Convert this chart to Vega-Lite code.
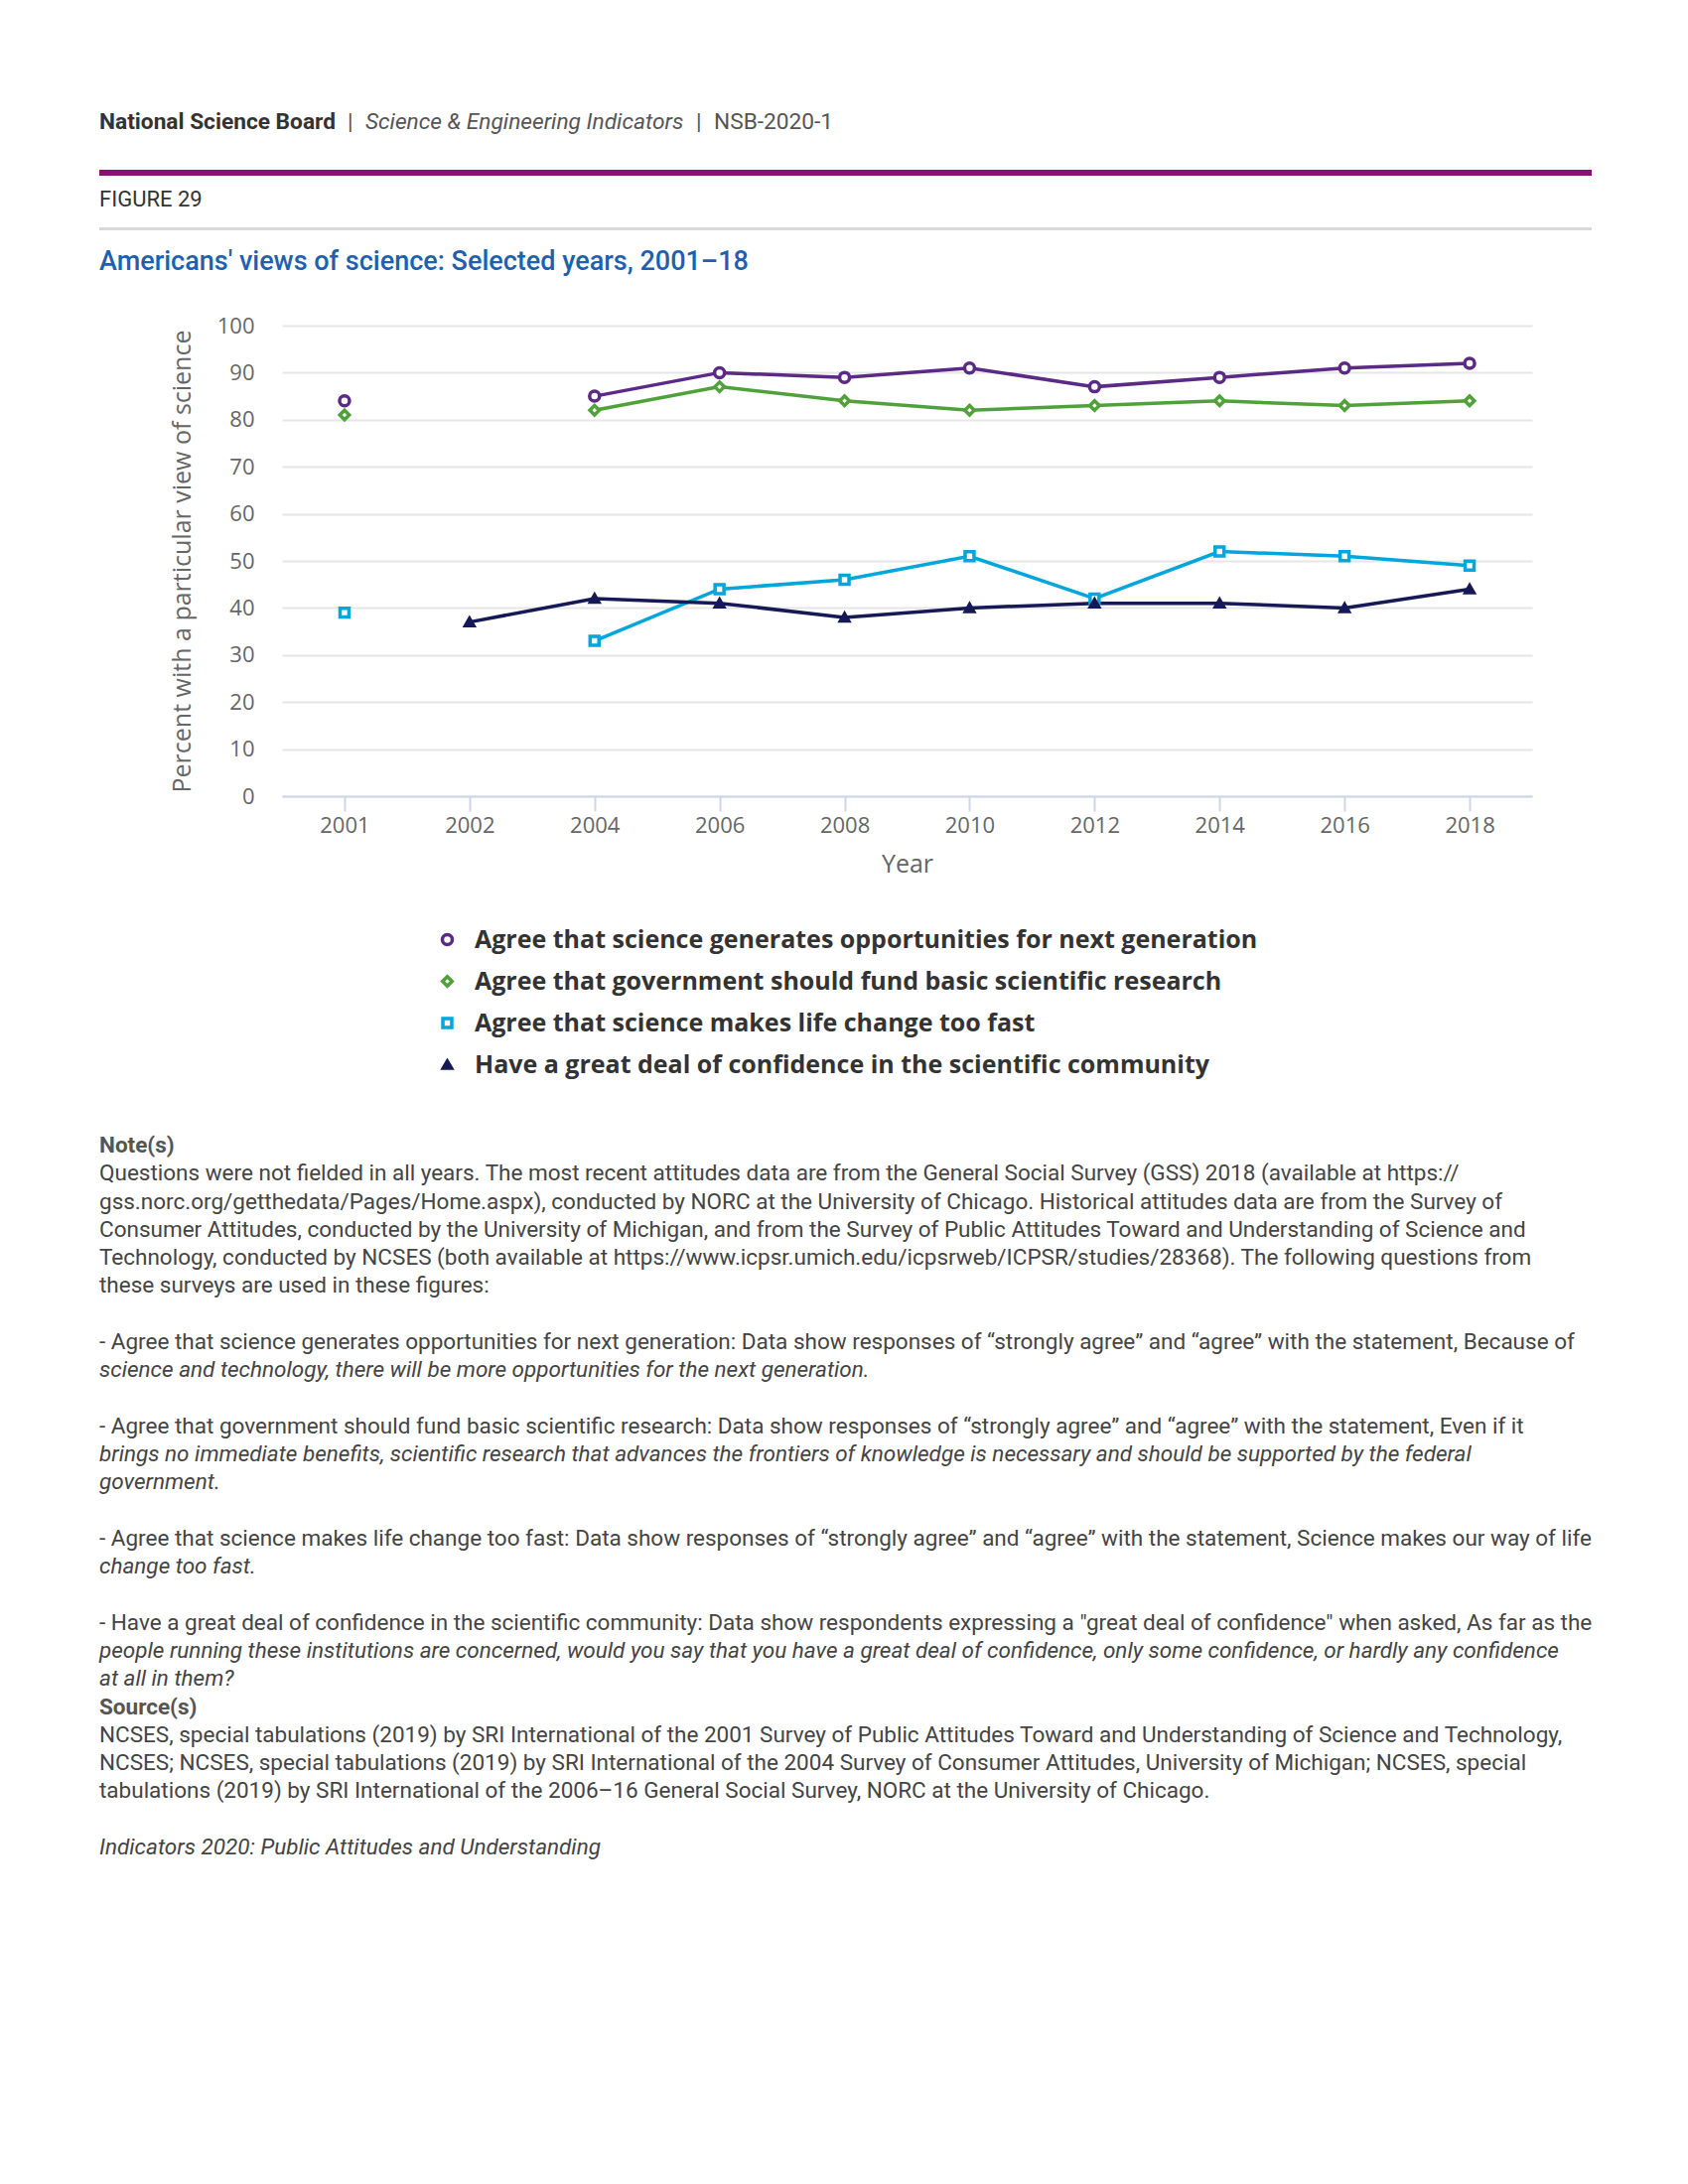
{
  "$schema": "https://vega.github.io/schema/vega-lite/v6.json",
  "background": "white",
  "padding": {"left": 100, "top": 112, "right": 20, "bottom": 20},
  "config": {
    "view": {"stroke": null},
    "font": "Roboto",
    "title": {"font": "Roboto", "anchor": "start", "frame": "bounds"},
    "axis": {
      "labelFont": "Open Sans",
      "titleFont": "Open Sans",
      "labelColor": "#666666",
      "titleColor": "#666666",
      "titleFontWeight": "normal",
      "labelFontSize": 22,
      "titleFontSize": 25
    },
    "legend": {
      "orient": "none",
      "legendX": 338,
      "legendY": 763,
      "labelFont": "Open Sans",
      "labelFontSize": 25,
      "labelFontWeight": "bold",
      "labelColor": "#333333",
      "labelLimit": 0,
      "labelOffset": 15,
      "rowPadding": 16,
      "symbolStrokeWidth": 3.5
    }
  },
  "datasets": {
    "series": [
      {"series": "Agree that science generates opportunities for next generation", "year": 2001, "value": 84},
      {"series": "Agree that science generates opportunities for next generation", "year": 2002, "value": null},
      {"series": "Agree that science generates opportunities for next generation", "year": 2004, "value": 85},
      {"series": "Agree that science generates opportunities for next generation", "year": 2006, "value": 90},
      {"series": "Agree that science generates opportunities for next generation", "year": 2008, "value": 89},
      {"series": "Agree that science generates opportunities for next generation", "year": 2010, "value": 91},
      {"series": "Agree that science generates opportunities for next generation", "year": 2012, "value": 87},
      {"series": "Agree that science generates opportunities for next generation", "year": 2014, "value": 89},
      {"series": "Agree that science generates opportunities for next generation", "year": 2016, "value": 91},
      {"series": "Agree that science generates opportunities for next generation", "year": 2018, "value": 92},
      {"series": "Agree that government should fund basic scientific research", "year": 2001, "value": 81},
      {"series": "Agree that government should fund basic scientific research", "year": 2002, "value": null},
      {"series": "Agree that government should fund basic scientific research", "year": 2004, "value": 82},
      {"series": "Agree that government should fund basic scientific research", "year": 2006, "value": 87},
      {"series": "Agree that government should fund basic scientific research", "year": 2008, "value": 84},
      {"series": "Agree that government should fund basic scientific research", "year": 2010, "value": 82},
      {"series": "Agree that government should fund basic scientific research", "year": 2012, "value": 83},
      {"series": "Agree that government should fund basic scientific research", "year": 2014, "value": 84},
      {"series": "Agree that government should fund basic scientific research", "year": 2016, "value": 83},
      {"series": "Agree that government should fund basic scientific research", "year": 2018, "value": 84},
      {"series": "Agree that science makes life change too fast", "year": 2001, "value": 39},
      {"series": "Agree that science makes life change too fast", "year": 2002, "value": null},
      {"series": "Agree that science makes life change too fast", "year": 2004, "value": 33},
      {"series": "Agree that science makes life change too fast", "year": 2006, "value": 44},
      {"series": "Agree that science makes life change too fast", "year": 2008, "value": 46},
      {"series": "Agree that science makes life change too fast", "year": 2010, "value": 51},
      {"series": "Agree that science makes life change too fast", "year": 2012, "value": 42},
      {"series": "Agree that science makes life change too fast", "year": 2014, "value": 52},
      {"series": "Agree that science makes life change too fast", "year": 2016, "value": 51},
      {"series": "Agree that science makes life change too fast", "year": 2018, "value": 49},
      {"series": "Have a great deal of confidence in the scientific community", "year": 2001, "value": null},
      {"series": "Have a great deal of confidence in the scientific community", "year": 2002, "value": 37},
      {"series": "Have a great deal of confidence in the scientific community", "year": 2004, "value": 42},
      {"series": "Have a great deal of confidence in the scientific community", "year": 2006, "value": 41},
      {"series": "Have a great deal of confidence in the scientific community", "year": 2008, "value": 38},
      {"series": "Have a great deal of confidence in the scientific community", "year": 2010, "value": 40},
      {"series": "Have a great deal of confidence in the scientific community", "year": 2012, "value": 41},
      {"series": "Have a great deal of confidence in the scientific community", "year": 2014, "value": 41},
      {"series": "Have a great deal of confidence in the scientific community", "year": 2016, "value": 40},
      {"series": "Have a great deal of confidence in the scientific community", "year": 2018, "value": 44}
    ],
    "notes": [
      {"line": 1, "role": "heading", "text": "Note(s)"},
      {"line": 2, "role": "body", "text": "Questions were not fielded in all years. The most recent attitudes data are from the General Social Survey (GSS) 2018 (available at https://"},
      {"line": 3, "role": "body", "text": "gss.norc.org/getthedata/Pages/Home.aspx), conducted by NORC at the University of Chicago. Historical attitudes data are from the Survey of"},
      {"line": 4, "role": "body", "text": "Consumer Attitudes, conducted by the University of Michigan, and from the Survey of Public Attitudes Toward and Understanding of Science and"},
      {"line": 5, "role": "body", "text": "Technology, conducted by NCSES (both available at https://www.icpsr.umich.edu/icpsrweb/ICPSR/studies/28368). The following questions from"},
      {"line": 6, "role": "body", "text": "these surveys are used in these figures:"},
      {"line": 8, "role": "body", "text": "- Agree that science generates opportunities for next generation: Data show responses of “strongly agree” and “agree” with the statement, Because of"},
      {"line": 9, "role": "statement", "text": "science and technology, there will be more opportunities for the next generation."},
      {"line": 11, "role": "body", "text": "- Agree that government should fund basic scientific research: Data show responses of “strongly agree” and “agree” with the statement, Even if it"},
      {"line": 12, "role": "statement", "text": "brings no immediate benefits, scientific research that advances the frontiers of knowledge is necessary and should be supported by the federal"},
      {"line": 13, "role": "statement", "text": "government."},
      {"line": 15, "role": "body", "text": "- Agree that science makes life change too fast: Data show responses of “strongly agree” and “agree” with the statement, Science makes our way of life"},
      {"line": 16, "role": "statement", "text": "change too fast."},
      {"line": 18, "role": "body", "text": "- Have a great deal of confidence in the scientific community: Data show respondents expressing a \"great deal of confidence\" when asked, As far as the"},
      {"line": 19, "role": "statement", "text": "people running these institutions are concerned, would you say that you have a great deal of confidence, only some confidence, or hardly any confidence"},
      {"line": 20, "role": "statement", "text": "at all in them?"},
      {"line": 21, "role": "heading", "text": "Source(s)"},
      {"line": 22, "role": "body", "text": "NCSES, special tabulations (2019) by SRI International of the 2001 Survey of Public Attitudes Toward and Understanding of Science and Technology,"},
      {"line": 23, "role": "body", "text": "NCSES; NCSES, special tabulations (2019) by SRI International of the 2004 Survey of Consumer Attitudes, University of Michigan; NCSES, special"},
      {"line": 24, "role": "body", "text": "tabulations (2019) by SRI International of the 2006–16 General Social Survey, NORC at the University of Chicago."},
      {"line": 26, "role": "statement", "text": "Indicators 2020: Public Attitudes and Understanding"}
    ]
  },
  "spacing": 260,
  "vconcat": [
    {
      "spacing": 18,
      "vconcat": [
        {
          "spacing": 13,
          "vconcat": [
            {
              "spacing": 0,
              "hconcat": [
                {"width": 250, "height": 6, "view": {"fill": "#8a0f79", "stroke": null}, "data": {"values": []}, "mark": "point",
                 "title": {"text": "National Science Board", "fontSize": 22.7, "fontWeight": "bold", "color": "#333333", "offset": 36}},
                {"width": 18, "height": 6, "view": {"fill": "#8a0f79", "stroke": null}, "data": {"values": []}, "mark": "point",
                 "title": {"text": "|", "fontSize": 22.7, "fontWeight": "normal", "color": "#555555", "offset": 36}},
                {"width": 333, "height": 6, "view": {"fill": "#8a0f79", "stroke": null}, "data": {"values": []}, "mark": "point",
                 "title": {"text": "Science & Engineering Indicators", "fontSize": 22.7, "fontWeight": "normal", "fontStyle": "italic", "color": "#555555", "offset": 36}},
                {"width": 18, "height": 6, "view": {"fill": "#8a0f79", "stroke": null}, "data": {"values": []}, "mark": "point",
                 "title": {"text": "|", "fontSize": 22.7, "fontWeight": "normal", "color": "#555555", "offset": 36}},
                {"width": 884, "height": 6, "view": {"fill": "#8a0f79", "stroke": null}, "data": {"values": []}, "mark": "point",
                 "title": {"text": "NSB-2020-1", "fontSize": 22.7, "fontWeight": "normal", "color": "#555555", "offset": 36}}
              ]
            },
            {"width": 1503, "height": 3, "view": {"fill": "#d9d9d9", "stroke": null}, "data": {"values": []}, "mark": "point",
             "title": {"text": "FIGURE 29", "fontSize": 22, "fontWeight": "normal", "color": "#333333", "offset": 16}}
          ]
        },
        {
          "title": {"text": "Americans' views of science: Selected years, 2001–18", "fontSize": 27, "fontWeight": 500, "color": "#1f5faf", "offset": 39},
          "spacing": 21,
          "hconcat": [
            {"width": 50, "height": 474, "data": {"values": []}, "mark": "point"},
            {
              "width": 1259,
              "height": 474,
              "data": {"name": "series"},
              "encoding": {
                "x": {"field": "year", "type": "ordinal", "title": "Year",
                      "axis": {"labelAngle": 0, "domainColor": "#ccd6eb", "domainWidth": 2, "tickColor": "#ccd6eb", "tickWidth": 2, "tickSize": 15, "labelPadding": 4, "titlePadding": 16, "grid": false}},
                "y": {"field": "value", "type": "quantitative", "title": "Percent with a particular view of science",
                      "scale": {"domain": [0, 100], "nice": false},
                      "axis": {"values": [0, 10, 20, 30, 40, 50, 60, 70, 80, 90, 100], "grid": true, "domain": false, "ticks": false, "labelPadding": 28, "titlePadding": 22, "gridColor": "#e6e6e6", "gridWidth": 2, "labelOverlap": false}}
              },
              "layer": [
                {
                  "mark": {"type": "line", "strokeWidth": 3.5, "invalid": "break-paths-show-domains"},
                  "encoding": {
                    "color": {"field": "series", "type": "nominal", "legend": null,
                              "scale": {"range": ["#4fa23a", "#5b2a84", "#00a6dc", "#151a56"]}}
                  }
                },
                {
                  "mark": {"type": "point", "strokeWidth": 3.5, "opacity": 1},
                  "encoding": {
                    "stroke": {"field": "series", "type": "nominal", "legend": {"title": null},
                               "scale": {"domain": ["Agree that science generates opportunities for next generation", "Agree that government should fund basic scientific research", "Agree that science makes life change too fast", "Have a great deal of confidence in the scientific community"],
                                         "range": ["#5b2a84", "#4fa23a", "#00a6dc", "#151a56"]}},
                    "fill": {"field": "series", "type": "nominal", "legend": {"title": null},
                             "scale": {"domain": ["Agree that science generates opportunities for next generation", "Agree that government should fund basic scientific research", "Agree that science makes life change too fast", "Have a great deal of confidence in the scientific community"],
                                       "range": ["#ffffff", "#ffffff", "#ffffff", "#151a56"]}},
                    "shape": {"field": "series", "type": "nominal", "legend": {"title": null},
                              "scale": {"domain": ["Agree that science generates opportunities for next generation", "Agree that government should fund basic scientific research", "Agree that science makes life change too fast", "Have a great deal of confidence in the scientific community"],
                                        "range": ["circle", "diamond", "square", "triangle-up"]}},
                    "size": {"field": "series", "type": "nominal", "legend": {"title": null},
                             "scale": {"domain": ["Agree that science generates opportunities for next generation", "Agree that government should fund basic scientific research", "Agree that science makes life change too fast", "Have a great deal of confidence in the scientific community"],
                                       "range": [100, 70, 100, 130]}}
                  }
                }
              ]
            }
          ]
        }
      ]
    },
    {
      "width": 1503,
      "height": 707,
      "data": {"name": "notes"},
      "encoding": {
        "x": {"datum": 0, "type": "quantitative", "scale": {"domain": [0, 1]}, "axis": null},
        "y": {"field": "line", "type": "quantitative", "scale": {"domain": [1, 26], "reverse": true, "nice": false, "zero": false}, "axis": null},
        "text": {"field": "text", "type": "nominal"}
      },
      "layer": [
        {"transform": [{"filter": "datum.role === 'heading'"}],
         "mark": {"type": "text", "align": "left", "baseline": "middle", "font": "Roboto", "fontSize": 22.5, "fontWeight": "bold", "color": "#555555"}},
        {"transform": [{"filter": "datum.role === 'body'"}],
         "mark": {"type": "text", "align": "left", "baseline": "middle", "font": "Roboto", "fontSize": 22.5, "color": "#444444"}},
        {"transform": [{"filter": "datum.role === 'statement'"}],
         "mark": {"type": "text", "align": "left", "baseline": "middle", "font": "Roboto", "fontSize": 22.5, "fontStyle": "italic", "color": "#444444"}}
      ]
    }
  ]
}
